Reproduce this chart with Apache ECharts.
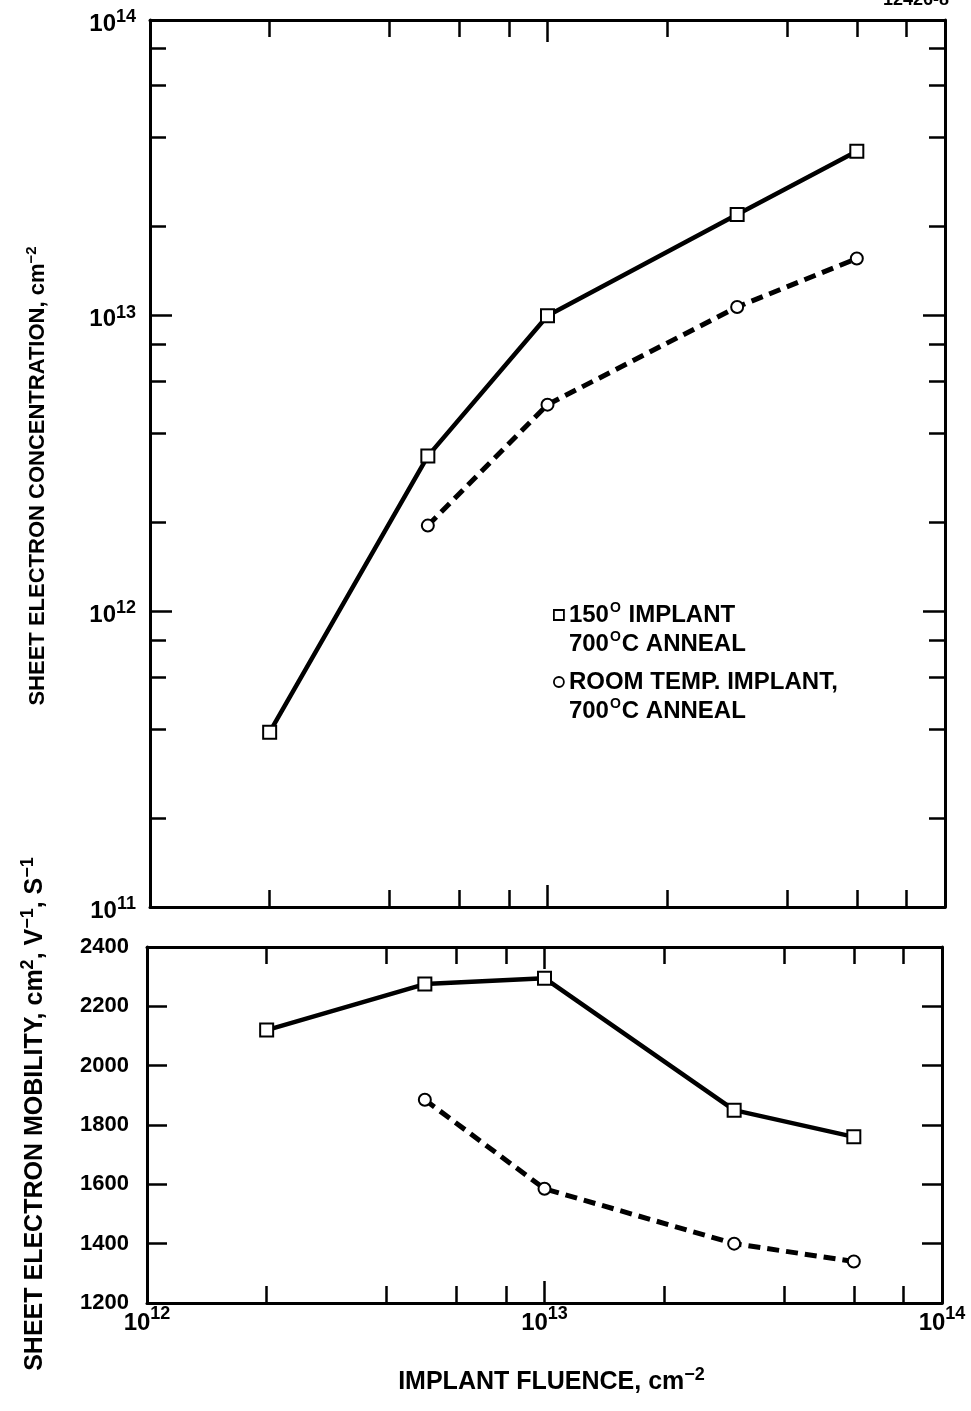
<!DOCTYPE html>
<html>
<head>
<meta charset="utf-8">
<script src="https://cdn.jsdelivr.net/npm/echarts@6/dist/echarts.min.js"></script>
<style>
html,body{margin:0;padding:0;background:#fff;}
#chart{width:971px;height:1411px;}
</style>
</head>
<body>
<div id="chart"></div>
<script>
// ---- data ----
const fluence150 = [2e12, 5e12, 1e13, 3e13, 6e13];
const conc150 = [3.9e11, 3.35e12, 1.0e13, 2.2e13, 3.6e13];
const mob150 = [2120, 2275, 2295, 1850, 1760];

const fluenceRoom = [5e12, 1e13, 3e13, 6e13];
const concRoom = [1.95e12, 5.0e12, 1.07e13, 1.56e13];
const mobRoom = [1885, 1585, 1400, 1340];

const seriesNames = ['150° IMPLANT, 700°C ANNEAL', 'ROOM TEMP. IMPLANT, 700°C ANNEAL'];
const legendText = [
  '{t|150}{o|O}{t| IMPLANT}\n{t|700}{o|O}{t|C ANNEAL}',
  '{t|ROOM TEMP. IMPLANT,}\n{t|700}{o|O}{t|C ANNEAL}'
];
const legendIcons = ['rect', 'circle'];

// tick values and labels
const xDecades = [1e12, 1e13, 1e14];
const xDecadeExp = ['12', '13', '14'];
const yDecades = [1e11, 1e12, 1e13, 1e14];
const yDecadeExp = ['11', '12', '13', '14'];
const xMinorTicks = [2e12, 4e12, 6e12, 8e12, 2e13, 4e13, 6e13, 8e13];
const yMinorTicks = [2e11, 4e11, 6e11, 8e11, 2e12, 4e12, 6e12, 8e12, 2e13, 4e13, 6e13, 8e13];
const mobMin = 1200, mobMax = 2400, mobStep = 200;

const FONT = '"Liberation Sans", Arial, Helvetica, sans-serif';
const BLACK = '#000';

function decadeLabel(decades, exps) {
  return function (v) {
    let idx = -1;
    for (let i = 0; i < decades.length; i++) {
      if (Math.abs(Math.log10(v) - Math.log10(decades[i])) < 1e-6) idx = i;
    }
    return idx < 0 ? '' : '{b|10}{s|' + exps[idx] + '}';
  };
}

const lineAxis = { show: true, onZero: false, lineStyle: { color: BLACK, width: 3 } };

function logAxis(gridIndex, position, min, max, showLabel, labelOpt) {
  return {
    type: 'log', logBase: 10, gridIndex, position, min, max,
    axisLine: lineAxis,
    axisTick: { show: true, inside: true, length: 22, lineStyle: { color: BLACK, width: 2.5 } },
    minorTick: { show: false },
    splitLine: { show: false },
    axisLabel: Object.assign({ show: showLabel }, labelOpt || {})
  };
}
function auxAxis(gridIndex, position, minorTicks, lo, hi, len) {
  return {
    type: 'value', gridIndex, position, min: lo, max: hi,
    axisLine: { show: false },
    axisTick: { show: true, inside: true, length: len,
      customValues: minorTicks.map(v => Math.log10(v)),
      lineStyle: { color: BLACK, width: 2.5 } },
    axisLabel: { show: false },
    splitLine: { show: false }
  };
}

const xLabelOpt = {
  margin: 2,
  formatter: decadeLabel(xDecades, xDecadeExp),
  rich: {
    b: { fontFamily: FONT, fontWeight: 'bold', fontSize: 24, color: BLACK, padding: [6, 0, 0, 0] },
    s: { fontFamily: FONT, fontWeight: 'bold', fontSize: 18, color: BLACK, padding: [0, 0, 12, 0] }
  }
};
const yLabelOpt = {
  margin: 14,
  formatter: decadeLabel(yDecades, yDecadeExp),
  rich: {
    b: { fontFamily: FONT, fontWeight: 'bold', fontSize: 24, color: BLACK, padding: [8, 0, 0, 0] },
    s: { fontFamily: FONT, fontWeight: 'bold', fontSize: 18, color: BLACK, padding: [0, 0, 6, 0] }
  }
};

function titleRich(size) {
  return {
    t: { fontFamily: FONT, fontWeight: 'bold', fontSize: size, color: BLACK },
    s: { fontFamily: FONT, fontWeight: 'bold', fontSize: Math.round(size * 0.7), color: BLACK, padding: [0, 0, Math.round(size * 0.6), 0] }
  };
}

const topY = logAxis(0, 'left', 1e11, 1e14, true, yLabelOpt);
topY.name = '{t|SHEET ELECTRON CONCENTRATION, cm}{s|−2}';
topY.nameLocation = 'middle';
topY.nameGap = 98;
topY.nameTextStyle = { rich: titleRich(22), padding: [0, 25, 0, 0] };

const bottomX = logAxis(1, 'bottom', 1e12, 1e14, true, xLabelOpt);
bottomX.name = '{t|IMPLANT FLUENCE, cm}{s|−2}';
bottomX.nameLocation = 'middle';
bottomX.nameGap = 63;
bottomX.nameTextStyle = { rich: titleRich(25), padding: [0, 0, 0, 14] };

const mobLeft = {
  type: 'value', gridIndex: 1, position: 'left', min: mobMin, max: mobMax, interval: mobStep,
  axisLine: lineAxis,
  axisTick: { show: true, inside: true, length: 20, lineStyle: { color: BLACK, width: 2.5 } },
  splitLine: { show: false },
  axisLabel: { show: true, margin: 18, fontFamily: FONT, fontWeight: 'bold', fontSize: 22, color: BLACK,
    formatter: v => String(v) },
  name: '{t|SHEET ELECTRON MOBILITY, cm}{s|2}{t|, V}{s|−1}{t|, S}{s|−1}',
  nameLocation: 'middle',
  nameGap: 95,
  nameTextStyle: { rich: titleRich(25), padding: [0, 0, 0, 22] }
};
const mobRight = {
  type: 'value', gridIndex: 1, position: 'right', min: mobMin, max: mobMax, interval: mobStep,
  axisLine: lineAxis,
  axisTick: { show: true, inside: true, length: 20, lineStyle: { color: BLACK, width: 2.5 } },
  splitLine: { show: false },
  axisLabel: { show: false }
};

const sqStyle = { color: '#fff', borderColor: BLACK, borderWidth: 2 };

function pairs(xs, ys) { return xs.map((x, i) => [x, ys[i]]); }

const legendTops = [601, 670];
const legends = seriesNames.map((name, i) => ({
  left: 553,
  top: legendTops[i],
  orient: 'vertical',
  padding: 0,
  itemWidth: 10,
  itemHeight: 10,
  selectedMode: false,
  data: [{ name: name, icon: legendIcons[i] }],
  itemStyle: { color: '#fff', borderColor: BLACK, borderWidth: 1.8 },
  formatter: function (n) { return legendText[seriesNames.indexOf(n)]; },
  textStyle: {
    padding: [29, 0, 0, 0],
    rich: {
      t: { fontFamily: FONT, fontWeight: 'bold', fontSize: 24, color: BLACK, lineHeight: 29 },
      o: { fontFamily: FONT, fontWeight: 'bold', fontSize: 14, color: BLACK, lineHeight: 14, padding: [0, 1, 14, 1] }
    }
  }
}));

const option = {
  animation: false,
  backgroundColor: '#fff',
  grid: [
    { left: 150, top: 20, width: 795, height: 887 },
    { left: 147, top: 947, width: 795, height: 356 }
  ],
  xAxis: [
    logAxis(0, 'bottom', 1e12, 1e14, false),
    logAxis(0, 'top', 1e12, 1e14, false),
    auxAxis(0, 'bottom', xMinorTicks, 12, 14, 17),
    auxAxis(0, 'top', xMinorTicks, 12, 14, 17),
    bottomX,
    logAxis(1, 'top', 1e12, 1e14, false),
    auxAxis(1, 'bottom', xMinorTicks, 12, 14, 17),
    auxAxis(1, 'top', xMinorTicks, 12, 14, 17)
  ],
  yAxis: [
    topY,
    logAxis(0, 'right', 1e11, 1e14, false),
    auxAxis(0, 'left', yMinorTicks, 11, 14, 16),
    auxAxis(0, 'right', yMinorTicks, 11, 14, 16),
    mobLeft,
    mobRight
  ],
  legend: legends,
  graphic: [
    { type: 'text', right: 22, top: -9, style: { text: '12426-8', font: 'bold 18px ' + FONT, fill: BLACK } }
  ],
  series: [
    {
      name: seriesNames[0], type: 'line', xAxisIndex: 0, yAxisIndex: 0,
      data: pairs(fluence150, conc150),
      symbol: 'rect', symbolSize: 13, itemStyle: sqStyle,
      lineStyle: { color: BLACK, width: 4.5 }, z: 5
    },
    {
      name: seriesNames[1], type: 'line', xAxisIndex: 0, yAxisIndex: 0,
      data: pairs(fluenceRoom, concRoom),
      symbol: 'circle', symbolSize: 12, itemStyle: sqStyle,
      lineStyle: { color: BLACK, width: 5, type: [12, 7] }, z: 5
    },
    {
      name: seriesNames[0], type: 'line', xAxisIndex: 4, yAxisIndex: 4,
      data: pairs(fluence150, mob150),
      symbol: 'rect', symbolSize: 13, itemStyle: sqStyle,
      lineStyle: { color: BLACK, width: 4.5 }, z: 5
    },
    {
      name: seriesNames[1], type: 'line', xAxisIndex: 4, yAxisIndex: 4,
      data: pairs(fluenceRoom, mobRoom),
      symbol: 'circle', symbolSize: 12, itemStyle: sqStyle,
      lineStyle: { color: BLACK, width: 5, type: [12, 7] }, z: 5
    }
  ]
};

const chart = echarts.init(document.getElementById('chart'), null, { renderer: 'canvas' });
chart.setOption(option);
</script>
</body>
</html>
